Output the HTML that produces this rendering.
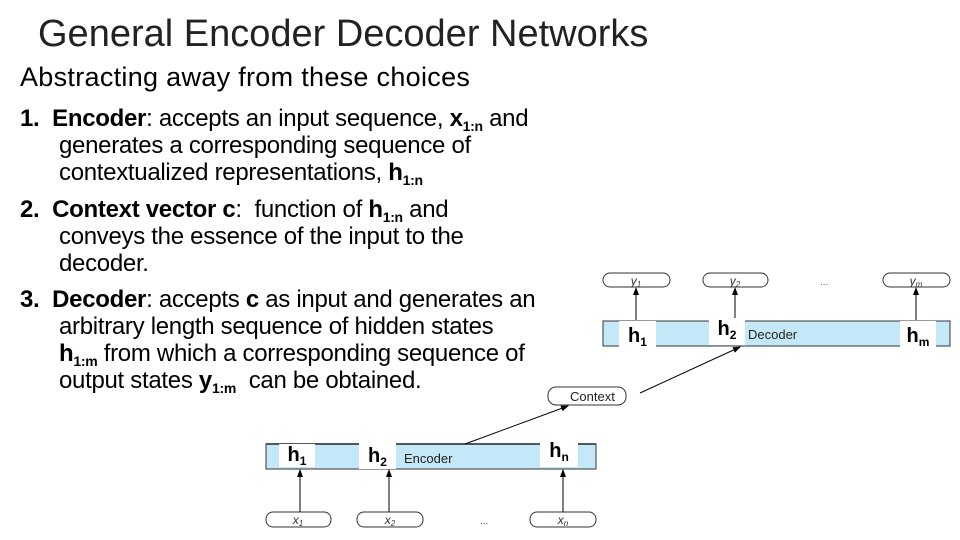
<!DOCTYPE html>
<html><head><meta charset="utf-8"><style>
body{margin:0;width:960px;height:540px;background:#fff;position:relative;overflow:hidden;font-family:"Liberation Sans",sans-serif;color:#000}
.t{position:absolute;white-space:nowrap}
.l{position:absolute;white-space:nowrap;font-size:24px;line-height:27px;letter-spacing:-0.3px}
sub{font-size:14px;vertical-align:-5px;line-height:0}
.h{position:absolute;background:#fff;font-weight:bold;font-size:20px;text-align:center}
.h sub{font-size:12px;vertical-align:-4px}
</style></head><body>
<div class="t" style="left:38px;top:13px;font-size:38px;color:#222">General Encoder Decoder Networks</div>
<div class="t" style="left:20px;top:62px;font-size:27px;letter-spacing:0.3px">Abstracting away from these choices</div>
<div class="l" style="left:20px;top:105px"><b>1.&nbsp; Encoder</b>: accepts an input sequence, <b>x<sub>1:n</sub></b> and</div>
<div class="l" style="left:59px;top:132px">generates a corresponding sequence of</div>
<div class="l" style="left:59px;top:159px">contextualized representations, <b>h<sub>1:n</sub></b></div>
<div class="l" style="left:20px;top:196px"><b>2.&nbsp; Context vector c</b>:&nbsp; function of <b>h<sub>1:n</sub></b> and</div>
<div class="l" style="left:59px;top:223px">conveys the essence of the input to the</div>
<div class="l" style="left:59px;top:250px">decoder.</div>
<div class="l" style="left:20px;top:286px"><b>3.&nbsp; Decoder</b>: accepts <b>c</b> as input and generates an</div>
<div class="l" style="left:59px;top:313px">arbitrary length sequence of hidden states</div>
<div class="l" style="left:59px;top:340px"><b>h<sub>1:m</sub></b> from which a corresponding sequence of</div>
<div class="l" style="left:59px;top:367px">output states <b>y<sub>1:m</sub></b>&nbsp; can be obtained.</div>

<svg width="960" height="540" style="position:absolute;left:0;top:0" font-family="Liberation Sans, sans-serif">
<defs><marker id="a" markerWidth="8" markerHeight="8" refX="7" refY="4" orient="auto"><path d="M0,1 L8,4 L0,7z" fill="#000"/></marker></defs>
<rect x="266" y="444" width="330" height="25" fill="#c5e8f8" stroke="#333" stroke-width="1"/>
<line x1="266" y1="444" x2="596" y2="444" stroke="#555" stroke-width="2"/>
<text x="404" y="463" font-size="13" fill="#222">Encoder</text>
<g fill="#fff" stroke="#333"><rect x="266" y="512" width="65" height="15" rx="7"/><rect x="357" y="512" width="66" height="15" rx="7"/><rect x="530" y="512" width="66" height="15" rx="7"/>
<rect x="548" y="387" width="78" height="18" rx="8"/></g>
<g font-size="12" font-style="italic" fill="#333" text-anchor="middle"><text x="298" y="524">x<tspan font-size="8" dy="2">1</tspan></text><text x="390" y="524">x<tspan font-size="8" dy="2">2</tspan></text><text x="563" y="524">x<tspan font-size="8" dy="2">n</tspan></text></g>
<text x="480" y="524" font-size="10" fill="#555">...</text>
<text x="570" y="401" font-size="13" fill="#222">Context</text>
<g stroke="#000" stroke-width="1" marker-end="url(#a)"><line x1="300" y1="512" x2="300" y2="470"/><line x1="389" y1="512" x2="389" y2="470"/><line x1="563" y1="512" x2="563" y2="470"/>
<line x1="465" y1="444" x2="568" y2="406"/><line x1="640" y1="393" x2="740" y2="347"/>
<line x1="636" y1="320" x2="636" y2="288"/><line x1="735" y1="318" x2="735" y2="288"/><line x1="916" y1="320" x2="916" y2="288"/></g>
<rect x="603" y="321" width="347" height="25" fill="#c5e8f8" stroke="#333"/>
<text x="748" y="339" font-size="13" fill="#222">Decoder</text>
<g fill="#fff" stroke="#333"><rect x="603" y="273" width="67" height="14" rx="7"/><rect x="703" y="273" width="65" height="14" rx="7"/><rect x="883" y="273" width="67" height="14" rx="7"/></g>
<g font-size="12" font-style="italic" fill="#333" text-anchor="middle"><text x="636" y="285">y<tspan font-size="8" dy="2">1</tspan></text><text x="735" y="285">y<tspan font-size="8" dy="2">2</tspan></text><text x="916" y="285">y<tspan font-size="8" dy="2">m</tspan></text></g>
<text x="820" y="285" font-size="10" fill="#555">...</text>
</svg>
<div class="h" style="left:279px;top:444px;width:36px;height:23px">h<sub>1</sub></div>
<div class="h" style="left:359px;top:443px;width:37px;height:26px;line-height:26px">h<sub>2</sub></div>
<div class="h" style="left:540px;top:440px;width:38px;height:27px">h<sub>n</sub></div>
<div class="h" style="left:619px;top:321px;width:37px;height:27px;line-height:30px">h<sub>1</sub></div>
<div class="h" style="left:709px;top:318px;width:36px;height:27px">h<sub>2</sub></div>
<div class="h" style="left:900px;top:321px;width:36px;height:27px;line-height:30px">h<sub>m</sub></div>
</body></html>
